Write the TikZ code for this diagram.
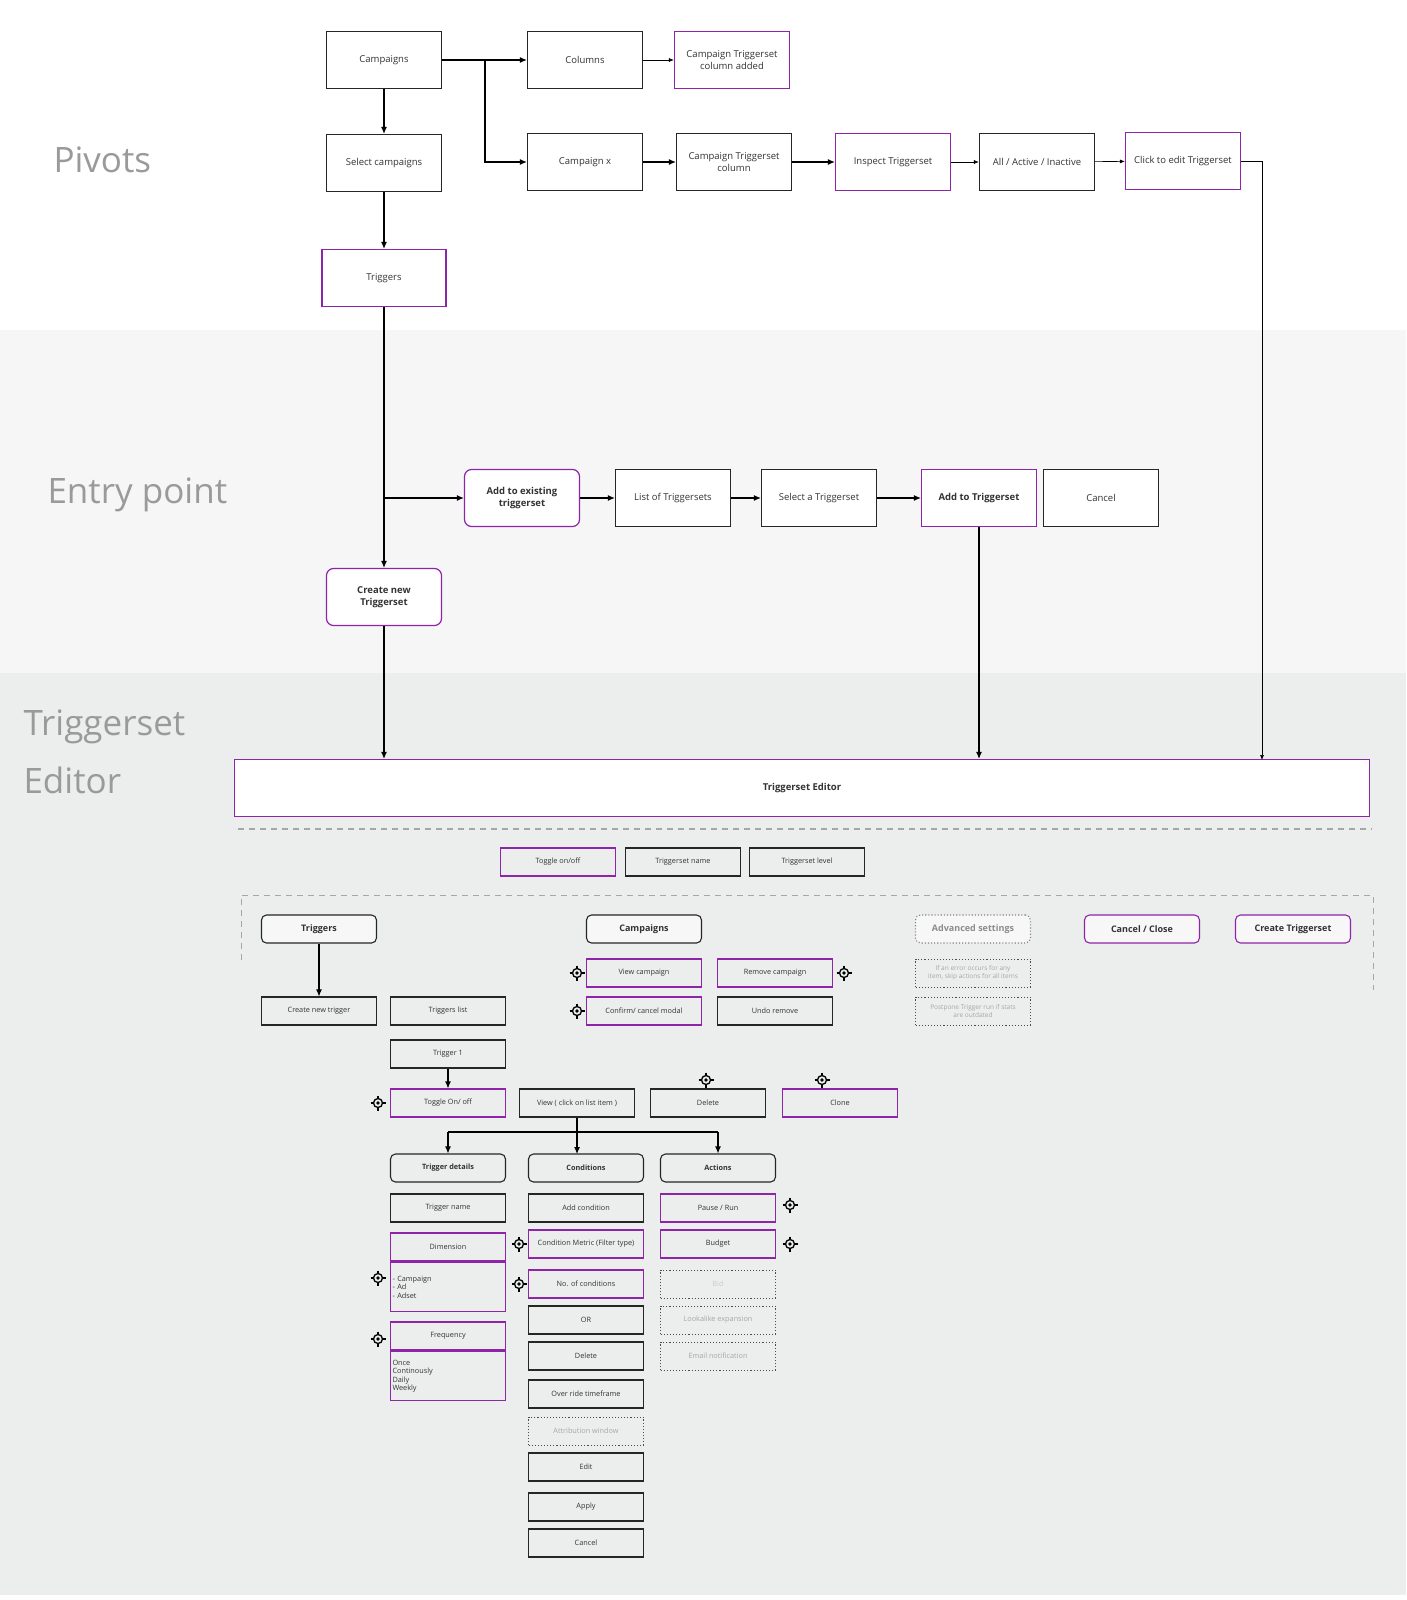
\documentclass[tikz,border=0pt]{standalone}
\usepackage{fontspec}
\setmainfont{Open Sans}
\usetikzlibrary{arrows.meta}
\definecolor{pur}{HTML}{8E24AA}
\definecolor{bgA}{HTML}{F6F6F6}
\definecolor{bgB}{HTML}{ECEDED}
\definecolor{lbl}{HTML}{9A9A9A}
\tikzset{
 x=1pt,y=-1pt,
 bx/.style={draw=black!85,line width=1.2pt,minimum width=115,minimum height=57,inner sep=1pt,font=\fontsize{9.5}{11.5}\selectfont,align=center,fill=white,text=black!80},
 pb/.style={bx,draw=pur},
 rb/.style={bx,draw=pur,rounded corners=7,font=\fontsize{9.5}{11.5}\selectfont\bfseries},
 sb/.style={draw=black!85,line width=1.1pt,minimum width=115,minimum height=28,inner sep=1pt,font=\fontsize{7.3}{8.5}\selectfont,align=center,fill=bgB,text=black!80},
 sp/.style={sb,draw=pur},
 sd/.style={sb,draw=black!70,dotted,line width=1pt,text=black!35},
 hd/.style={sb,rounded corners=5,fill=black!3,font=\fontsize{9}{10}\selectfont\bfseries},
 hp/.style={hd,draw=pur},
 ar/.style={-{Latex[length=7,width=6]},line width=1.1pt},
 tar/.style={-{Latex[length=5,width=4]},line width=0.6pt},
 sec/.style={font=\fontsize{35}{42}\selectfont,text=lbl,anchor=west},
 pics/ch/.style={code={\draw[line width=1.3pt] (0,0) circle (4.5);\fill (0,0) circle (1.8);
   \draw[line width=1.3pt] (-7.5,0)--(-4.5,0) (4.5,0)--(7.5,0) (0,-7.5)--(0,-4.5) (0,4.5)--(0,7.5);}}
}
\begin{document}
\begin{tikzpicture}
\useasboundingbox (0,0) rectangle (1406,1600);
\fill[white] (0,0) rectangle (1406,1600);
\fill[bgA] (0,330) rectangle (1406,673);
\fill[bgB] (0,673) rectangle (1406,1595);
\node[sec] at (50,160) {Pivots};
\node[sec] at (44,495) {Entry point};
\node[sec] at (20,727) {Triggerset};
\node[sec] at (20,780) {Editor};

\node[bx] (camp) at (384,60) {Campaigns};
\node[bx] (cols) at (585,60) {Columns};
\node[pb] (ctca) at (732,60) {Campaign Triggerset\\column added};
\node[bx] (sel) at (384,163) {Select campaigns};
\node[bx] (cx) at (585,162) {Campaign x};
\node[bx] (ctc) at (734,162) {Campaign Triggerset\\column};
\node[pb] (insp) at (893,162) {Inspect Triggerset};
\node[bx] (all) at (1037,162) {All / Active / Inactive};
\node[pb] (click) at (1183,161) {Click to edit Triggerset};
\node[pb,minimum width=124] (trig) at (384,278) {Triggers};
\node[rb] (addex) at (522,498) {Add to existing\\triggerset};
\node[bx] (list) at (673,498) {List of Triggersets};
\node[bx] (selt) at (819,498) {Select a Triggerset};
\node[pb,font=\fontsize{9.5}{11.5}\selectfont\bfseries] (addt) at (979,498) {Add to Triggerset};
\node[bx] (canc) at (1101,498) {Cancel};
\node[rb] (cnew) at (384,597) {Create new\\Triggerset};
\node[pb,minimum width=1135,font=\fontsize{9.5}{11.5}\selectfont\bfseries] (ed) at (802,788) {Triggerset Editor};

\coordinate (br) at (485,60);
\coordinate (ep) at (384,498);
\draw[ar] (camp) -- (cols);
\draw[ar] (br) |- (cx);
\draw[tar] (cols) -- (ctca);
\draw[ar] (cx) -- (ctc);
\draw[ar] (ctc) -- (insp);
\draw[tar] (insp) -- (all);
\draw[tar] (all) -- (click);
\draw[tar] (click.east) -| (1262,760);
\draw[ar] (camp) -- (sel);
\draw[ar] (sel) -- (trig);
\draw[ar] (trig) -- (cnew);
\draw[ar] (ep) -- (addex);
\draw[ar] (addex) -- (list);
\draw[ar] (list) -- (selt);
\draw[ar] (selt) -- (addt);
\draw[ar] (addt.south) -- (addt.south |- ed.north);
\draw[ar] (cnew) -- (cnew |- ed.north);

\draw[draw=black!35,line width=1.2pt,dash pattern=on 6pt off 5pt] (238,829) -- (1372,829);
\draw[draw=black!35,line width=1pt,dash pattern=on 6pt off 5pt] (241,960) -- (241,895) -- (1373,895) -- (1373,990);

\node[sp] (tog) at (558,862) {Toggle on/off};
\node[sb] at (683,862) {Triggerset name};
\node[sb] at (807,862) {Triggerset level};

\node[hd] (htr) at (319,929) {Triggers};
\node[hd] at (644,929) {Campaigns};
\node[hd,draw=black!50,dotted,text=black!45] at (973,929) {Advanced settings};
\node[hp] at (1142,929) {Cancel / Close};
\node[hp] at (1293,929) {Create Triggerset};

\node[sp] at (644,973) {View campaign}; \pic at (577,973) {ch};
\node[sp] at (775,973) {Remove campaign}; \pic at (844,973) {ch};
\node[sp] at (644,1011) {Confirm/ cancel modal}; \pic at (577,1011) {ch};
\node[sb] at (775,1011) {Undo remove};
\node[sd,font=\fontsize{6.5}{8}\selectfont] at (973,973) {If an error occurs for any\\item, skip actions for all items};
\node[sd,font=\fontsize{6.5}{8}\selectfont] at (973,1011) {Postpone Trigger run if stats\\are outdated};

\node[sb] (cnt) at (319,1011) {Create new trigger};
\draw[ar] (htr) -- (cnt);
\node[sb] at (448,1011) {Triggers list};
\node[sb] (t1) at (448,1054) {Trigger 1};
\node[sp] (tg) at (448,1103) {Toggle On/ off}; \pic at (378,1103) {ch};
\draw[ar] (t1) -- (tg);
\node[sb] (view) at (577,1103) {View ( click on list item )};
\node[sb] (del) at (708,1103) {Delete}; \pic at (706,1080) {ch};
\node[sp] at (840,1103) {Clone}; \pic at (822,1080) {ch};

\node[hd,fill=bgB,font=\fontsize{7.3}{8.5}\selectfont\bfseries] (td) at (448,1168) {Trigger details};
\node[hd,fill=bgB,font=\fontsize{7.3}{8.5}\selectfont\bfseries] (cond) at (586,1168) {Conditions};
\node[hd,fill=bgB,font=\fontsize{7.3}{8.5}\selectfont\bfseries] (act) at (718,1168) {Actions};
\coordinate (j) at (577,1132);
\draw[line width=1.1pt] (view.south) -- (j);
\draw[line width=1.1pt] (448,1132) -- (718,1132);
\draw[ar] (448,1132) -- (td.north);
\draw[ar] (j) -- (577,1154);
\draw[ar] (718,1132) -- (act.north);

\node[sb] at (448,1208) {Trigger name};
\node[sp] at (448,1247) {Dimension};
\node[sp,minimum height=49,text width=111,align=left,anchor=north] at (448,1262) {- Campaign\\- Ad\\- Adset};
\pic at (378,1278) {ch};
\node[sp] at (448,1336) {Frequency}; \pic at (378,1339) {ch};
\node[sp,minimum height=49,text width=111,align=left,anchor=north] at (448,1351) {Once\\Continously\\Daily\\Weekly};

\node[sb] at (586,1208) {Add condition};
\node[sp] at (586,1244) {Condition Metric (Filter type)}; \pic at (519,1244) {ch};
\node[sp] at (586,1284) {No. of conditions}; \pic at (519,1284) {ch};
\node[sb] at (586,1320) {OR};
\node[sb] at (586,1356) {Delete};
\node[sb] at (586,1394) {Over ride timeframe};
\node[sd] at (586,1431) {Attribution window};
\node[sb] at (586,1467) {Edit};
\node[sb] at (586,1507) {Apply};
\node[sb] at (586,1543) {Cancel};

\node[sp] at (718,1208) {Pause / Run}; \pic at (790,1205) {ch};
\node[sp] at (718,1244) {Budget}; \pic at (790,1244) {ch};
\node[sd,text=black!20] at (718,1284) {Bid};
\node[sd] at (718,1320) {Lookalike expansion};
\node[sd] at (718,1356) {Email notification};
\end{tikzpicture}
\end{document}
